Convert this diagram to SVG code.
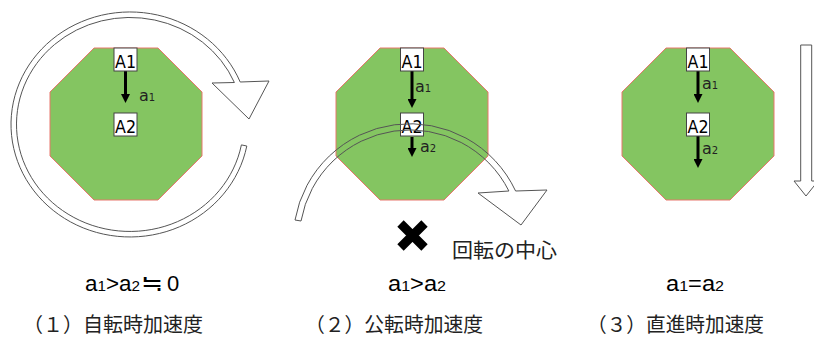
<svg xmlns="http://www.w3.org/2000/svg" width="814" height="338" viewBox="0 0 814 338">
<style>
.oct{fill:#84C561;stroke:#E8766C;stroke-width:1}
.box{fill:#fff;stroke:#444;stroke-width:1}
.bt{font-family:"DejaVu Sans",Verdana,sans-serif;font-size:17px;fill:#000}
.al{font-family:"DejaVu Sans",Verdana,sans-serif;font-size:16px;fill:#222}
.sub{font-size:10px}
.acc{stroke:#000;stroke-width:3;fill:none;marker-end:url(#ah)}
.ring{stroke:#555;stroke-width:1}
.fm{font-family:"Liberation Sans",Arial,sans-serif;font-size:22px;fill:#000}
.fs{font-size:15px}
.cj{font-family:"Noto Sans CJK JP",sans-serif;font-size:20px;fill:#222}
</style>
<defs>
<marker id="ah" viewBox="0 0 10 10" refX="3" refY="5" markerWidth="3" markerHeight="3" orient="auto">
<path d="M0,0 L10,5 L0,10 Z" fill="#000"/>
</marker>
<polygon id="octagon" points="-32,48 32,48 76,92 76,156 32,200 -32,200 -76,156 -76,92"/>
</defs>

<g id="panel1">
<path id="rot-arrow" class="ring" fill="#fff" d="M 246.8,146 A 119 112.5 0 1 1 240.2,82 L 269,81 L 249,119 L 212,83 L 234.4,82.5 A 113.5 107 0 1 0 241.4,144.9 Z"/>
<g id="octagon1"><use href="#octagon" class="oct" transform="translate(126,0)"/></g>
<g id="connectors1">
<line class="acc" x1="125.5" y1="71" x2="125.5" y2="96.7"/>
</g>
<text class="al" x="139" y="101">a<tspan class="sub">1</tspan></text>
<g id="p1-A1"><rect class="box" x="114" y="48" width="23" height="23"/><text class="bt" x="115" y="68" textLength="21" lengthAdjust="spacingAndGlyphs">A1</text></g>
<g id="p1-A2"><rect class="box" x="114" y="113" width="23" height="23"/><text class="bt" x="115" y="133" textLength="21" lengthAdjust="spacingAndGlyphs">A2</text></g>
<text class="fm" x="85" y="291" textLength="55" lengthAdjust="spacingAndGlyphs">a<tspan class="fs">1</tspan>&gt;a<tspan class="fs">2</tspan></text>
<text class="fm" transform="translate(140.5,291) scale(1.2,1)" font-family="Noto Sans CJK JP">≒</text>
<text class="fm" x="167" y="291">0</text>
<text class="cj" x="23" y="332" textLength="180" lengthAdjust="spacingAndGlyphs">（１）自転時加速度</text>
</g>

<g id="panel2">
<g id="octagon2"><use href="#octagon" class="oct" transform="translate(412,0)"/></g>
<g id="connectors2">
<line class="acc" x1="412" y1="71" x2="412" y2="101.7"/>
<line class="acc" x1="412" y1="137" x2="412" y2="150.7"/>
</g>
<text class="al" x="415" y="92">a<tspan class="sub">1</tspan></text>
<text class="al" x="420" y="152">a<tspan class="sub">2</tspan></text>
<g id="p2-A1"><rect class="box" x="400.5" y="48" width="23" height="23"/><text class="bt" x="401.5" y="68" textLength="21" lengthAdjust="spacingAndGlyphs">A1</text></g>
<g id="p2-A2"><rect class="box" x="400.5" y="113" width="23" height="23"/><text class="bt" x="401.5" y="133" textLength="21" lengthAdjust="spacingAndGlyphs">A2</text></g>
<path id="orbit-arrow" class="ring" fill="none" d="M 295,220 A 116.7 116.7 0 0 1 515.6,191 L 547,190 L 521,225 L 478,193 L 508.9,191 A 110.7 110.7 0 0 0 301,221 Z"/>
<g id="center-mark"><path d="M400.5,223.5 L424.5,247.5 M424.5,223.5 L400.5,247.5" stroke="#000" stroke-width="9"/></g>
<text class="cj" x="452" y="258" font-size="21" textLength="105" lengthAdjust="spacingAndGlyphs">回転の中心</text>
<text class="fm" x="388" y="291" textLength="58" lengthAdjust="spacingAndGlyphs">a<tspan class="fs">1</tspan>&gt;a<tspan class="fs">2</tspan></text>
<text class="cj" x="305" y="332" textLength="178" lengthAdjust="spacingAndGlyphs">（２）公転時加速度</text>
</g>

<g id="panel3">
<g id="octagon3"><use href="#octagon" class="oct" transform="translate(698,0)"/></g>
<g id="connectors3">
<line class="acc" x1="698" y1="71" x2="698" y2="96.7"/>
<line class="acc" x1="698" y1="136" x2="698" y2="161.7"/>
</g>
<text class="al" x="702" y="89">a<tspan class="sub">1</tspan></text>
<text class="al" x="702" y="154">a<tspan class="sub">2</tspan></text>
<g id="p3-A1"><rect class="box" x="686.5" y="48" width="23" height="23"/><text class="bt" x="687.5" y="68" textLength="21" lengthAdjust="spacingAndGlyphs">A1</text></g>
<g id="p3-A2"><rect class="box" x="686.5" y="113" width="23" height="23"/><text class="bt" x="687.5" y="133" textLength="21" lengthAdjust="spacingAndGlyphs">A2</text></g>
<path id="straight-arrow" class="ring" fill="#fff" d="M 800.7,45 H 811.7 V 181 H 818 L 806,196 L 794,181 H 800.7 Z"/>
<text class="fm" x="666" y="291" textLength="58" lengthAdjust="spacingAndGlyphs">a<tspan class="fs">1</tspan>=a<tspan class="fs">2</tspan></text>
<text class="cj" x="587" y="332" textLength="177" lengthAdjust="spacingAndGlyphs">（３）直進時加速度</text>
</g>
</svg>
